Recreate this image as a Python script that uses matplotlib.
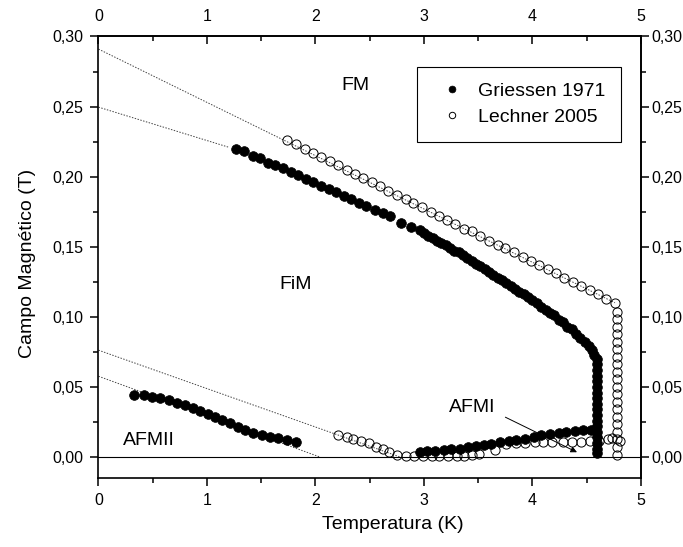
# plot.py
# Phase diagram: Campo Magnetico vs Temperatura

import matplotlib
matplotlib.use("Agg")
import matplotlib.pyplot as plt
from matplotlib.ticker import FixedLocator, FuncFormatter


# Griessen 1971, low temperature AFMII branch
griessen_afm2_T = [0.324, 0.416, 0.494, 0.570, 0.646, 0.723, 0.793, 0.871, 0.938,
                   1.005, 1.075, 1.142, 1.213, 1.284, 1.351, 1.427, 1.505, 1.581,
                   1.657, 1.734, 1.820]
griessen_afm2_B = [0.0442, 0.0442, 0.0430, 0.0418, 0.0406, 0.0387, 0.0371, 0.0347,
                   0.0328, 0.0306, 0.0287, 0.0264, 0.0240, 0.0216, 0.0192, 0.0173,
                   0.0157, 0.0145, 0.0133, 0.0121, 0.0109]

# Griessen 1971, FM / FiM boundary (sparse part, then dense part, then vertical drop)
griessen_upper_T = [1.27, 1.34, 1.42, 1.49, 1.56, 1.63, 1.70, 1.77, 1.84, 1.91, 1.98,
                    2.05, 2.12, 2.19, 2.26, 2.33, 2.40, 2.47, 2.55, 2.62, 2.69,
                    2.79, 2.88,
                    2.96, 3.00, 3.04, 3.08, 3.12, 3.16, 3.20, 3.24, 3.28, 3.32, 3.36,
                    3.40, 3.44, 3.48, 3.52, 3.56, 3.60, 3.64, 3.68, 3.72, 3.76, 3.80,
                    3.84, 3.88, 3.92, 3.96, 4.00, 4.04, 4.08, 4.12, 4.16, 4.20, 4.24,
                    4.28, 4.32, 4.36, 4.40, 4.44, 4.48, 4.52, 4.55, 4.57, 4.59,
                    4.595, 4.595, 4.595, 4.595, 4.595, 4.595, 4.595, 4.595, 4.595,
                    4.595, 4.595, 4.595, 4.595, 4.595, 4.595, 4.595, 4.59]
griessen_upper_B = [0.220, 0.218, 0.215, 0.213, 0.210, 0.208, 0.206, 0.203, 0.201,
                    0.198, 0.196, 0.193, 0.191, 0.189, 0.186, 0.184, 0.181, 0.179,
                    0.176, 0.174, 0.172,
                    0.167, 0.164,
                    0.162, 0.160, 0.158, 0.156, 0.154, 0.153, 0.151, 0.149, 0.147,
                    0.146, 0.144, 0.142, 0.140, 0.138, 0.136, 0.134, 0.132, 0.130,
                    0.128, 0.126, 0.124, 0.122, 0.120, 0.118, 0.116, 0.114, 0.112,
                    0.110, 0.107, 0.105, 0.103, 0.101, 0.098, 0.096, 0.093, 0.091,
                    0.088, 0.085, 0.082, 0.079, 0.076, 0.073, 0.070,
                    0.066, 0.062, 0.058, 0.054, 0.050, 0.046, 0.042, 0.038, 0.034,
                    0.030, 0.026, 0.022, 0.018, 0.014, 0.010, 0.006, 0.003]

# Griessen 1971, AFMI branch
griessen_afm1_T = [2.96, 3.03, 3.10, 3.18, 3.25, 3.33, 3.41, 3.48, 3.55, 3.62, 3.70,
                   3.78, 3.85, 3.93, 4.01, 4.08, 4.16, 4.24, 4.31, 4.39, 4.47, 4.54]
griessen_afm1_B = [0.0036, 0.0040, 0.0044, 0.0048, 0.0054, 0.0060, 0.0068, 0.0076,
                   0.0086, 0.0096, 0.0105, 0.0114, 0.0122, 0.0131, 0.0143, 0.0155,
                   0.0163, 0.0171, 0.0179, 0.0186, 0.0191, 0.0196]

# Lechner 2005, FM boundary and vertical column
lechner_upper_T = [1.74, 1.82, 1.90, 1.98, 2.05, 2.13, 2.21, 2.29, 2.36, 2.44, 2.52,
                   2.59, 2.67, 2.75, 2.83, 2.90, 2.98, 3.06, 3.14, 3.21, 3.29, 3.37,
                   3.44, 3.52, 3.60, 3.68, 3.75, 3.83, 3.91, 3.99, 4.06, 4.14, 4.22,
                   4.29, 4.37, 4.45, 4.53, 4.60, 4.68, 4.76,
                   4.78, 4.78, 4.78, 4.78, 4.78, 4.78, 4.78, 4.78, 4.78, 4.78,
                   4.78, 4.78, 4.78, 4.78, 4.78, 4.78, 4.78, 4.78, 4.78, 4.78]
lechner_upper_B = [0.226, 0.223, 0.220, 0.217, 0.214, 0.211, 0.208, 0.205, 0.202,
                   0.199, 0.196, 0.193, 0.190, 0.187, 0.184, 0.181, 0.178, 0.175,
                   0.172, 0.169, 0.166, 0.163, 0.161, 0.158, 0.154, 0.151, 0.149,
                   0.146, 0.143, 0.140, 0.137, 0.134, 0.131, 0.128, 0.125, 0.122,
                   0.119, 0.116, 0.113, 0.110,
                   0.1036, 0.0981, 0.0929, 0.0874, 0.0821, 0.0767, 0.0714, 0.0662,
                   0.0607, 0.0553, 0.0500, 0.0448, 0.0393, 0.0339, 0.0286, 0.0234,
                   0.0179, 0.0131, 0.0071, 0.0012]

# Lechner 2005, low field branch
lechner_lower_T = [2.21, 2.29, 2.35, 2.42, 2.49, 2.56, 2.62, 2.68, 2.75, 2.83, 2.91,
                   2.99, 3.07, 3.14, 3.22, 3.30, 3.37, 3.44, 3.51,
                   3.65, 3.76, 3.85, 3.93, 4.02, 4.10, 4.18, 4.28, 4.36, 4.45, 4.53,
                   4.61, 4.70, 4.73, 4.81]
lechner_lower_B = [0.0157, 0.0140, 0.0126, 0.0114, 0.0098, 0.0073, 0.0055, 0.0038,
                   0.0014, 0.0007, 0.0007, 0.0007, 0.0007, 0.0007, 0.0007, 0.0007,
                   0.0007, 0.0014, 0.0019,
                   0.0050, 0.0090, 0.0098, 0.0102, 0.0104, 0.0104, 0.0106, 0.0109,
                   0.0110, 0.0110, 0.0116, 0.0116, 0.0126, 0.0134, 0.0112]

# dotted extrapolation lines: (T start, T end), (B start, B end)
extrap_T = [(0.0, 4.76), (0.0, 1.20), (0.0, 2.78), (0.0, 2.04)]
extrap_B = [(0.291, 0.110), (0.2496, 0.2210), (0.0762, 0.0), (0.0576, 0.0)]

# region names and where they sit
region_names = ["FM", "FiM", "AFMII", "AFMI"]
region_T = [2.37, 1.82, 0.46, 3.44]
region_B = [0.265, 0.123, 0.0115, 0.0355]

# tick positions
x_major = [0, 1, 2, 3, 4, 5]
x_minor = [0.5, 1.5, 2.5, 3.5, 4.5]
y_major = [0.00, 0.05, 0.10, 0.15, 0.20, 0.25, 0.30]
y_minor = [0.025, 0.075, 0.125, 0.175, 0.225, 0.275]


def comma_fmt(decimals):
    return FuncFormatter(lambda v, pos: f"{v:.{decimals}f}".replace(".", ","))


def draw_phase_diagram(ax):
    # extrapolations and B = 0 line
    for ts, bs in zip(extrap_T, extrap_B):
        ax.plot(ts, bs, color="#444444", lw=0.7, ls=(0, (1.5, 1.5)), zorder=1)
    ax.axhline(0.0, color="black", lw=0.8, zorder=1)

    open_kw = dict(ls="none", marker="o", ms=6.6, mfc="none", mec="black", mew=0.7,
                   zorder=2)
    full_kw = dict(ls="none", marker="o", ms=7.0, mfc="black", mec="black", mew=0.5,
                   zorder=3)

    ax.plot(lechner_upper_T, lechner_upper_B, label="Lechner 2005", **open_kw)
    ax.plot(lechner_lower_T, lechner_lower_B, **open_kw)
    ax.plot(griessen_upper_T, griessen_upper_B, label="Griessen 1971", **full_kw)
    ax.plot(griessen_afm2_T, griessen_afm2_B, **full_kw)
    ax.plot(griessen_afm1_T, griessen_afm1_B, **full_kw)

    for name, t, b in zip(region_names, region_T, region_B):
        ax.text(t, b, name, fontsize=14, ha="center", va="center")

    # arrow from the AFMI label down to the branch
    ax.annotate("", xy=(4.41, 0.0034), xytext=(3.75, 0.0284),
                arrowprops=dict(arrowstyle="-|>", color="black", lw=0.7,
                                mutation_scale=9, shrinkA=0, shrinkB=0))

    handles, labels = ax.get_legend_handles_labels()
    order = [1, 0]
    leg = ax.legend([handles[i] for i in order], [labels[i] for i in order],
                    loc="upper right", bbox_to_anchor=(0.9626, 0.9316),
                    fontsize=14, markerscale=0.7, frameon=True, fancybox=False,
                    framealpha=1, edgecolor="black", borderpad=0.8,
                    handlelength=2.0, handletextpad=0.35, labelspacing=0.45,
                    borderaxespad=0)
    leg.get_frame().set_linewidth(0.8)


def set_ticks(axis, major, minor, decimals):
    axis.set_major_locator(FixedLocator(major))
    axis.set_minor_locator(FixedLocator(minor))
    axis.set_major_formatter(comma_fmt(decimals))


def style_axes(ax):
    ax.set_xlim(0, 5)
    ax.set_ylim(-0.015, 0.30)

    set_ticks(ax.xaxis, x_major, x_minor, 0)
    set_ticks(ax.yaxis, y_major, y_minor, 2)

    for sp in ax.spines.values():
        sp.set_linewidth(1.2)

    ax.tick_params(axis="both", which="both", direction="out", width=1.1,
                   labelsize=11.5, top=False, right=False)
    ax.tick_params(which="major", length=6)
    ax.tick_params(which="minor", length=3.5)
    ax.tick_params(axis="x", which="both", pad=4.5)
    ax.tick_params(axis="y", which="both", pad=5)

    # top axis: ticks pointing inward, labels above
    top = ax.secondary_xaxis("top")
    set_ticks(top.xaxis, x_major, x_minor, 0)
    top.tick_params(which="both", direction="in", width=1.1, labelsize=11.5, pad=9)
    top.tick_params(which="major", length=6)
    top.tick_params(which="minor", length=3.5)
    top.spines["top"].set_linewidth(1.2)

    # right axis: ticks out, labels close to the ticks
    right = ax.secondary_yaxis("right")
    set_ticks(right.yaxis, y_major, y_minor, 2)
    right.tick_params(which="both", direction="out", width=1.1, labelsize=11.5,
                      pad=1.5)
    right.tick_params(which="major", length=6)
    right.tick_params(which="minor", length=3.5)
    right.spines["right"].set_linewidth(1.2)

    ax.set_xlabel("Temperatura (K)", fontsize=14)
    ax.set_ylabel("Campo Magnético (T)", fontsize=14)
    ax.xaxis.set_label_coords(0.543, -0.106)
    ax.xaxis.label.set_va("center")
    ax.yaxis.set_label_coords(-0.130, 0.485)
    ax.yaxis.label.set_va("center")


def main():
    plt.rcParams["font.family"] = ["Liberation Sans", "DejaVu Sans"]
    fig = plt.figure(figsize=(6.83, 5.47), dpi=100)
    ax = fig.add_axes([0.1442, 0.1261, 0.9385 - 0.1442, 0.9333 - 0.1261])

    draw_phase_diagram(ax)
    style_axes(ax)

    fig.savefig("out.png", dpi=100)


main()
